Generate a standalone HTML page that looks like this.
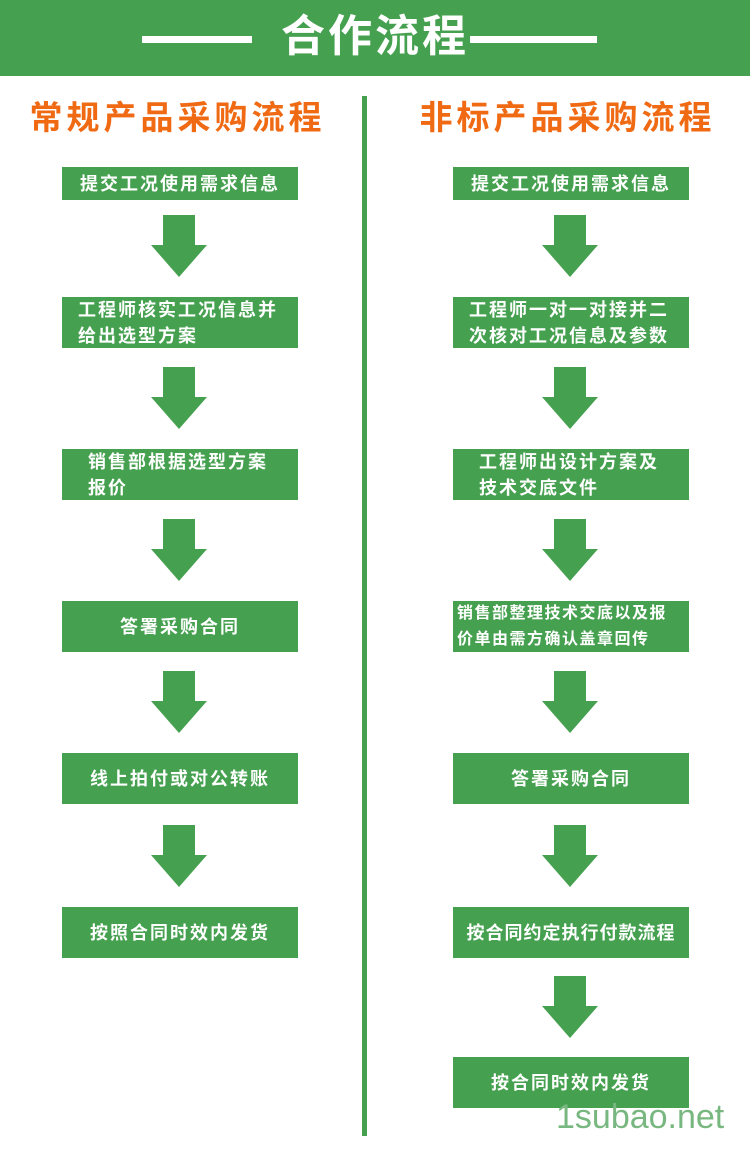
<!DOCTYPE html><html><head><meta charset="utf-8"><style>
body{margin:0;width:750px;height:1160px;background:#fff;position:relative;overflow:hidden;font-family:"Liberation Sans","Noto Sans CJK SC",sans-serif}
.hd{position:absolute;left:0;top:0;width:750px;height:76px;background:#45a04f}
.ln{position:absolute;top:36px;height:7px;background:#fff}
.tt{position:absolute;left:0;width:750px;top:10px;text-align:center;color:#fff;font-size:44px;font-weight:bold;letter-spacing:3px;line-height:54px;padding-left:0}
.st{position:absolute;top:96px;color:#f06a14;font-size:33px;font-weight:bold;letter-spacing:4px;line-height:44px;text-align:center;width:375px}
.dv{position:absolute;left:362px;top:96px;width:5px;height:1040px;background:#45a04f}
.b{position:absolute;background:#45a04f;color:#fff;font-size:18px;font-weight:bold;letter-spacing:2px;line-height:26px;box-sizing:border-box;display:flex;align-items:center;justify-content:center;text-align:left}
.b span{display:block}
.wm{position:absolute;left:556px;top:1097px;font-size:34px;color:#78b880;font-family:"Liberation Sans",sans-serif;line-height:40px}
svg{position:absolute}
</style></head><body>
<div class="hd"></div>
<div class="ln" style="left:142px;width:110px"></div>
<div class="ln" style="left:470px;width:127px"></div>
<div class="tt">合作流程</div>
<div class="st" style="left:-10px">常规产品采购流程</div>
<div class="st" style="left:380px">非标产品采购流程</div>
<div class="dv"></div>

<div class="b" style="left:62px;top:167px;width:236px;height:33px">提交工况使用需求信息</div>
<div class="b" style="left:62px;top:297px;width:236px;height:51px;justify-content:flex-start;padding-left:16px"><span>工程师核实工况信息并<br>给出选型方案</span></div>
<div class="b" style="left:62px;top:449px;width:236px;height:51px;justify-content:flex-start;padding-left:26px"><span>销售部根据选型方案<br>报价</span></div>
<div class="b" style="left:62px;top:601px;width:236px;height:51px">答署采购合同</div>
<div class="b" style="left:62px;top:753px;width:236px;height:51px">线上拍付或对公转账</div>
<div class="b" style="left:62px;top:907px;width:236px;height:51px">按照合同时效内发货</div>

<div class="b" style="left:453px;top:167px;width:236px;height:33px">提交工况使用需求信息</div>
<div class="b" style="left:453px;top:297px;width:236px;height:51px;justify-content:flex-start;padding-left:16px"><span>工程师一对一对接并二<br>次核对工况信息及参数</span></div>
<div class="b" style="left:453px;top:449px;width:236px;height:51px;justify-content:flex-start;padding-left:26px"><span>工程师出设计方案及<br>技术交底文件</span></div>
<div class="b" style="left:453px;top:601px;width:236px;height:51px;justify-content:flex-start;padding-left:4px;font-size:16px;letter-spacing:1.5px"><span>销售部整理技术交底以及报<br>价单由需方确认盖章回传</span></div>
<div class="b" style="left:453px;top:753px;width:236px;height:51px">答署采购合同</div>
<div class="b" style="left:453px;top:907px;width:236px;height:51px;letter-spacing:1px">按合同约定执行付款流程</div>
<div class="b" style="left:453px;top:1057px;width:236px;height:51px">按合同时效内发货</div>

<svg width="750" height="1160" style="left:0;top:0">
<defs><path id="a" d="M-16 0H16V30H28L0 62L-28 30H-16Z" fill="#45a04f"/></defs>
<use href="#a" x="179" y="215"/><use href="#a" x="179" y="367"/><use href="#a" x="179" y="519"/><use href="#a" x="179" y="671"/><use href="#a" x="179" y="825"/>
<use href="#a" x="570" y="215"/><use href="#a" x="570" y="367"/><use href="#a" x="570" y="519"/><use href="#a" x="570" y="671"/><use href="#a" x="570" y="825"/><use href="#a" x="570" y="976"/>
</svg>
<div class="wm">1subao.net</div>
</body></html>
